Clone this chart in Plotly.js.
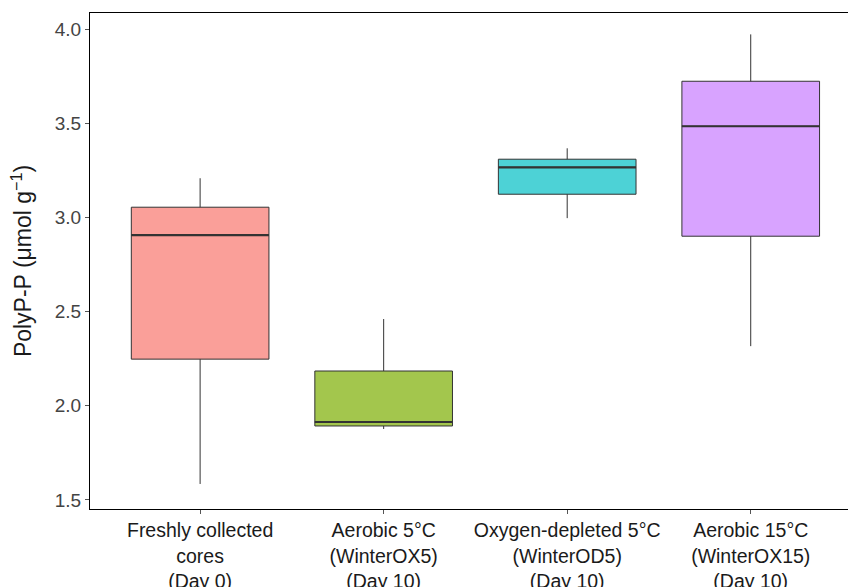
<!DOCTYPE html>
<html>
<head>
<meta charset="utf-8">
<script src="https://cdn.plot.ly/plotly-3.0.1.min.js"></script>
<style>html,body{margin:0;padding:0;background:#fff;}#chart{width:848px;height:587px;}</style>
</head>
<body>
<div id="chart"></div>
<script>
const categories = [
  "Freshly collected<br>cores<br>(Day 0)",
  "Aerobic 5°C<br>(WinterOX5)<br>(Day 10)",
  "Oxygen-depleted 5°C<br>(WinterOD5)<br>(Day 10)",
  "Aerobic 15°C<br>(WinterOX15)<br>(Day 10)"
];
const lowerWhisker = [1.585, 1.877, 2.997, 2.317];
const q1Values     = [2.248, 1.893, 3.124, 2.901];
const medianValues = [2.907, 1.914, 3.267, 3.485];
const q3Values     = [3.055, 2.185, 3.310, 3.724];
const upperWhisker = [3.209, 2.461, 3.368, 3.973];
const fillColors = ["#FA9F99", "#A3C64D", "#4DD2D6", "#D8A3FF"];
const yTicks = [1.5, 2.0, 2.5, 3.0, 3.5, 4.0];

const boxWidth = 0.75;
const traces = [];
categories.forEach((c, i) => {
  traces.push({
    type: 'box',
    x: [i],
    q1: [q1Values[i]],
    median: [medianValues[i]],
    q3: [q3Values[i]],
    lowerfence: [lowerWhisker[i]],
    upperfence: [upperWhisker[i]],
    width: boxWidth,
    whiskerwidth: 0,
    fillcolor: fillColors[i],
    line: {color: '#333333', width: 1},
    hoverinfo: 'skip',
    showlegend: false
  });
});
categories.forEach((c, i) => {
  traces.push({
    type: 'scatter',
    mode: 'lines',
    x: [i - boxWidth / 2, i + boxWidth / 2],
    y: [medianValues[i], medianValues[i]],
    line: {color: '#333333', width: 2.2},
    hoverinfo: 'skip',
    showlegend: false
  });
});

const layout = {
  width: 848,
  height: 587,
  margin: {l: 90, r: 0, t: 13, b: 78},
  paper_bgcolor: '#fff',
  plot_bgcolor: '#fff',
  showlegend: false,
  font: {family: 'Liberation Sans, Arial, sans-serif'},
  xaxis: {
    range: [-0.6, 3.53],
    tickvals: [0, 1, 2, 3],
    ticktext: categories,
    showgrid: false,
    zeroline: false,
    showline: true,
    linecolor: '#000',
    linewidth: 1,
    mirror: true,
    ticks: 'outside',
    ticklen: 4,
    tickcolor: '#555',
    tickfont: {size: 19.5, color: '#1a1a1a'}
  },
  yaxis: {
    range: [1.452, 4.0866],
    tickvals: yTicks,
    tickformat: '.1f',
    showgrid: false,
    zeroline: false,
    showline: true,
    linecolor: '#000',
    linewidth: 1,
    ticks: 'outside',
    ticklen: 4,
    tickcolor: '#555',
    tickfont: {size: 19, color: '#444'},
    title: {text: 'PolyP-P (μmol g<sup>−1</sup>)', font: {size: 23, color: '#1a1a1a'}, standoff: 16}
  }
};

Plotly.newPlot('chart', traces, layout, {staticPlot: true, displayModeBar: false});
</script>
</body>
</html>
